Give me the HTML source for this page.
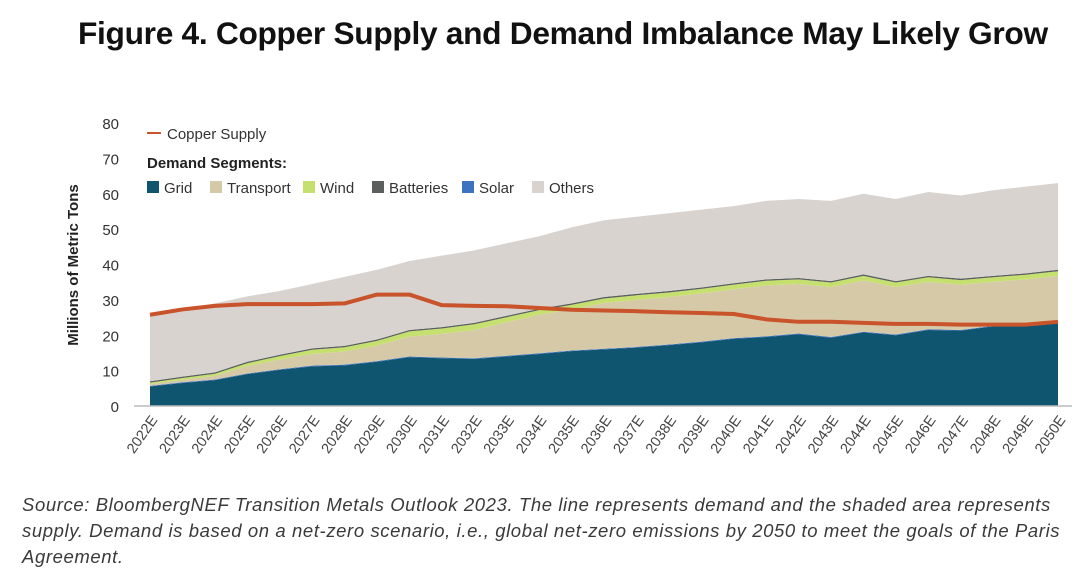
<!DOCTYPE html>
<html><head><meta charset="utf-8"><style>
body{margin:0;background:#fff;width:1080px;height:568px;overflow:hidden;font-family:"Liberation Sans",sans-serif}
#title{position:absolute;left:78px;top:15px;font-size:31.7px;font-weight:bold;color:#111;letter-spacing:-0.3px;white-space:nowrap}
#src{position:absolute;left:22px;top:492px;width:1058px;font-size:18.5px;font-style:italic;color:#3a3a3a;line-height:26px;letter-spacing:0.6px;white-space:nowrap}
</style></head><body>
<div id="title">Figure 4. Copper Supply and Demand Imbalance May Likely Grow</div>
<svg id="chart" width="1080" height="480" style="position:absolute;left:0;top:0"></svg>
<div id="src">Source: BloombergNEF Transition Metals Outlook 2023. The line represents demand and the shaded area represents<br>supply. Demand is based on a net-zero scenario, i.e., global net-zero emissions by 2050 to meet the goals of the Paris<br>Agreement.</div>
<script>
const years=["2022E","2023E","2024E","2025E","2026E","2027E","2028E","2029E","2030E","2031E","2032E","2033E","2034E","2035E","2036E","2037E","2038E","2039E","2040E","2041E","2042E","2043E","2044E","2045E","2046E","2047E","2048E","2049E","2050E"];
const grid=[5.5,6.5,7.3,9,10.2,11.2,11.5,12.5,13.8,13.5,13.3,14,14.7,15.5,16,16.5,17.2,18,19,19.5,20.3,19.3,20.8,20,21.5,21.3,22.5,23,23.5];
const transport=[0.5,0.7,1.0,2.1,2.7,3.3,3.7,4.4,5.6,6.7,8.0,9.5,10.9,11.6,12.9,13.3,13.4,13.6,13.8,14.4,14.0,14.1,14.5,13.4,13.4,12.8,12.4,12.6,13.1];
const wind=[0.4,0.5,0.6,0.8,1,1.2,1.2,1.3,1.5,1.5,1.6,1.4,1.3,1.3,1.3,1.3,1.3,1.3,1.3,1.3,1.3,1.3,1.3,1.3,1.3,1.3,1.3,1.3,1.3];
const batteries=[0.4,0.4,0.4,0.4,0.4,0.4,0.4,0.4,0.4,0.4,0.4,0.4,0.4,0.4,0.4,0.4,0.4,0.4,0.4,0.4,0.4,0.4,0.4,0.4,0.4,0.4,0.4,0.4,0.4];
const solar=[0.2,0.2,0.2,0.2,0.2,0.2,0.2,0.2,0.2,0.2,0.2,0.2,0.2,0.2,0.2,0.2,0.2,0.2,0.2,0.2,0.2,0.2,0.2,0.2,0.2,0.2,0.2,0.2,0.2];
const others=[19,19.2,19.5,18.5,18,18.2,19.5,19.7,19.5,20.2,20.5,20.5,20.5,21.5,21.7,21.8,22,22,21.8,22.2,22.3,22.7,22.8,23.2,23.7,23.5,24.2,24.5,24.5];
const supply=[25.8,27.3,28.3,28.8,28.8,28.8,29,31.5,31.5,28.5,28.3,28.2,27.7,27.2,27,26.8,26.5,26.3,26,24.5,23.8,23.8,23.5,23.2,23.2,23,23,23,23.8];
const yTicks=[0,10,20,30,40,50,60,70,80];

const NS="http://www.w3.org/2000/svg",svg=document.getElementById('chart');
const X0=150,X1=1058,Y0=406,Y80=123;
const x=i=>X0+(X1-X0)*i/(years.length-1);
const y=v=>Y0-(Y0-Y80)*v/80;
function mk(t,a){const e=document.createElementNS(NS,t);for(const k in a)e.setAttribute(k,a[k]);svg.appendChild(e);return e;}

const series=[["grid",grid,"#0f5570"],["solar",solar,"#3d72c0"],["transport",transport,"#d6c9a8"],["wind",wind,"#c6e070"],["batteries",batteries,"#5b605e"],["others",others,"#d8d3cf"]];
let base=years.map(()=>0);
series.forEach(([n,vals,c])=>{
  const top=base.map((b,i)=>b+vals[i]);
  let d="M"+top.map((v,i)=>x(i)+","+y(v)).join("L");
  for(let i=years.length-1;i>=0;i--)d+="L"+x(i)+","+y(base[i]);
  const p=mk("path",{d:d+"Z",fill:c});
  
  
  base=top;
});
const sl=mk("polyline",{points:supply.map((v,i)=>x(i)+","+y(v)).join(" "),fill:"none",stroke:"#c9532a","stroke-width":4,"stroke-linejoin":"round"});



mk("line",{x1:X0-16,x2:X1+14,y1:Y0,y2:Y0,stroke:"#bbb","stroke-width":1.5});
yTicks.forEach(v=>{const t=mk("text",{x:119,y:y(v)+6,"text-anchor":"end","font-size":15,fill:"#333"});t.textContent=v;

});
years.forEach((yr,i)=>{const t=mk("text",{x:x(i)+8,y:Y0+14,"text-anchor":"end","font-size":14.5,fill:"#444",transform:`rotate(-55 ${x(i)+8} ${Y0+14})`});t.textContent=yr;

});
const yl=mk("text",{x:0,y:0,"text-anchor":"middle","font-size":15,"font-weight":"bold",fill:"#222",transform:"translate(78 265) rotate(-90)"});yl.textContent="Millions of Metric Tons";



mk("line",{x1:147,x2:161,y1:133,y2:133,stroke:"#c9532a","stroke-width":2});
let t=mk("text",{x:167,y:139,"font-size":15,fill:"#333"});t.textContent="Copper Supply";


t=mk("text",{x:147,y:168,"font-size":15,"font-weight":"bold",fill:"#222"});t.textContent="Demand Segments:";


const leg=[["Grid","#0f5570",147],["Transport","#d6c9a8",210],["Wind","#c6e070",303],["Batteries","#5b605e",372],["Solar","#3d72c0",462],["Others","#d8d3cf",532]];
leg.forEach(([n,c,lx])=>{mk("rect",{x:lx,y:181,width:12,height:12,fill:c});
const tt=mk("text",{x:lx+17,y:193,"font-size":15,fill:"#333"});tt.textContent=n;

});
</script>
</body></html>
